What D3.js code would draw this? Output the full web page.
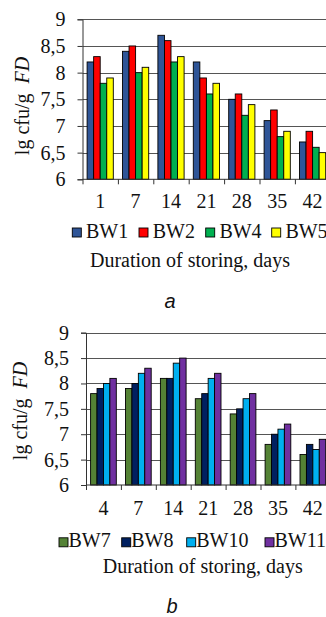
<!DOCTYPE html>
<html>
<head>
<meta charset="utf-8">
<script src="https://cdn.jsdelivr.net/npm/d3@7"></script>
<style>
  body { margin: 0; background: #fff; }
  text { font-family: "Liberation Serif", "Times New Roman", serif; fill: #111; }
</style>
</head>
<body>
<div id="chart"></div>
<script>
// chart a data
const daysA = ["1", "7", "14", "21", "28", "35", "42"];
const seriesA = ["BW1", "BW2", "BW4", "BW5"];
const bw1 = [8.2, 8.4, 8.7, 8.2, 7.5, 7.1, 6.7];
const bw2 = [8.3, 8.5, 8.6, 7.9, 7.6, 7.3, 6.9];
const bw4 = [7.8, 8.0, 8.2, 7.6, 7.2, 6.8, 6.6];
const bw5 = [7.9, 8.1, 8.3, 7.8, 7.4, 6.9, 6.5];
const colorsA = ["#2f5597", "#ff0000", "#00b050", "#ffff00"];

// chart b data
const daysB = ["4", "7", "14", "21", "28", "35", "42"];
const seriesB = ["BW7", "BW8", "BW10", "BW11"];
const bw7 = [7.8, 7.9, 8.1, 7.7, 7.4, 6.8, 6.6];
const bw8 = [7.9, 8.0, 8.1, 7.8, 7.5, 7.0, 6.8];
const bw10 = [8.0, 8.2, 8.4, 8.1, 7.7, 7.1, 6.7];
const bw11 = [8.1, 8.3, 8.5, 8.2, 7.8, 7.2, 6.9];
const colorsB = ["#548235", "#002060", "#00b0f0", "#7030a0"];

const yTicks = [6, 6.5, 7, 7.5, 8, 8.5, 9];

const FS = 20;

const svg = d3.select("#chart").append("svg")
  .attr("width", 326)
  .attr("height", 617);

// draws one grouped bar panel
function drawPanel(cfg){
  const g = svg.append("g");

  const y = d3.scaleLinear().domain([6, 9]).range([cfg.bottom, cfg.top]);
  const x0 = d3.scaleBand().domain(cfg.days).range([cfg.left, cfg.left + cfg.band * cfg.days.length]);
  const x1 = d3.scaleBand().domain(cfg.series).range([4.6, cfg.band - 4.6]);
  const color = d3.scaleOrdinal().domain(cfg.series).range(cfg.colors);

  // gridlines
  g.append("g").selectAll("line")
    .data(yTicks.slice(1)).enter()
    .append("line")
    .attr("x1", cfg.left).attr("x2", 326)
    .attr("y1", d => Math.round(y(d)) + 0.5)
    .attr("y2", d => Math.round(y(d)) + 0.5)
    .attr("stroke", "#555")
    .attr("stroke-width", 1);

  // bars
  const rows = cfg.days.map((d, i) => ({day: d, vals: cfg.series.map((s, j) => ({s: s, v: cfg.values[j][i]}))}));
  g.append("g").selectAll("g")
    .data(rows).enter()
    .append("g")
    .attr("transform", d => "translate(" + x0(d.day) + ",0)")
    .selectAll("rect")
    .data(d => d.vals).enter()
    .append("rect")
    .attr("x", d => x1(d.s))
    .attr("y", d => y(d.v))
    .attr("width", x1.bandwidth())
    .attr("height", d => y(6) - y(d.v))
    .attr("fill", d => color(d.s))
    .attr("stroke", "#000")
    .attr("stroke-width", 0.9);

  // y axis
  const yAxis = g.append("g")
    .attr("transform", "translate(" + cfg.left + ",0)")
    .call(d3.axisLeft(y).tickValues(yTicks).tickSize(5).tickPadding(12)
      .tickFormat(d => String(d).replace(".", ",")));
  yAxis.select(".domain").attr("stroke", "#333");
  yAxis.selectAll(".tick line").attr("stroke", "#333");
  yAxis.selectAll("text").attr("font-size", FS)
    .style("font-family", "Liberation Serif, serif").attr("fill", "#111");

  // x axis, ticks sit between the groups
  const xAxis = g.append("g")
    .attr("transform", "translate(0," + cfg.bottom + ")");
  xAxis.append("line")
    .attr("x1", cfg.left).attr("x2", 326)
    .attr("stroke", "#333");
  xAxis.selectAll(".tk")
    .data(cfg.days).enter()
    .append("line")
    .attr("x1", d => x0(d) + 0.5).attr("x2", d => x0(d) + 0.5)
    .attr("y1", 0).attr("y2", 5)
    .attr("stroke", "#333");
  xAxis.selectAll("text")
    .data(cfg.days).enter()
    .append("text")
    .attr("x", d => x0(d) + x0.bandwidth() / 2)
    .attr("y", cfg.labelDy)
    .attr("text-anchor", "middle")
    .attr("font-size", FS)
    .text(d => d);

  // y title
  const yt = g.append("text")
    .attr("transform", "translate(" + cfg.yTitleX + "," + cfg.yTitleY + ") rotate(-90)")
    .attr("text-anchor", "middle")
    .attr("font-size", FS);
  yt.append("tspan").text("lg cfu/g\u00a0\u00a0");
  yt.append("tspan").attr("font-style", "italic").text("FD");

  // legend
  cfg.series.forEach((s, i) => {
    const lx = cfg.legendXs[i];
    g.append("rect")
      .attr("x", lx).attr("y", cfg.legendY - 9.5)
      .attr("width", 9).attr("height", 9)
      .attr("fill", cfg.colors[i])
      .attr("stroke", "#000").attr("stroke-width", 0.9);
    g.append("text")
      .attr("x", lx + cfg.legendPad).attr("y", cfg.legendY)
      .attr("font-size", FS)
      .text(s);
  });

  // x title
  g.append("text")
    .attr("x", cfg.titleX).attr("y", cfg.titleY)
    .attr("font-size", FS)
    .text("Duration of storing, days");

  // panel letter
  g.append("text")
    .attr("x", cfg.letterX).attr("y", cfg.letterY)
    .attr("text-anchor", "middle")
    .attr("font-size", 20)
    .attr("font-style", "italic")
    .style("font-family", "Liberation Sans, Arial, sans-serif")
    .text(cfg.letter);
}

drawPanel({
  days: daysA, series: seriesA, values: [bw1, bw2, bw4, bw5], colors: colorsA,
  top: 19.3, bottom: 179.3, left: 82.5, band: 35.4,
  labelDy: 29, yTitleX: 29, yTitleY: 106,
  legendXs: [72.3, 139, 205.7, 271.7], legendY: 237.5, legendPad: 13.7,
  titleX: 90, titleY: 266.5,
  letter: "a", letterX: 170, letterY: 308
});

drawPanel({
  days: daysB, series: seriesB, values: [bw7, bw8, bw10, bw11], colors: colorsB,
  top: 332.7, bottom: 485, left: 86, band: 34.9,
  labelDy: 30, yTitleX: 27, yTitleY: 411,
  legendXs: [59, 121.7, 186.7, 265], legendY: 547.3, legendPad: 9.5,
  titleX: 102.7, titleY: 573.3,
  letter: "b", letterX: 172, letterY: 613
});
</script>
</body>
</html>
